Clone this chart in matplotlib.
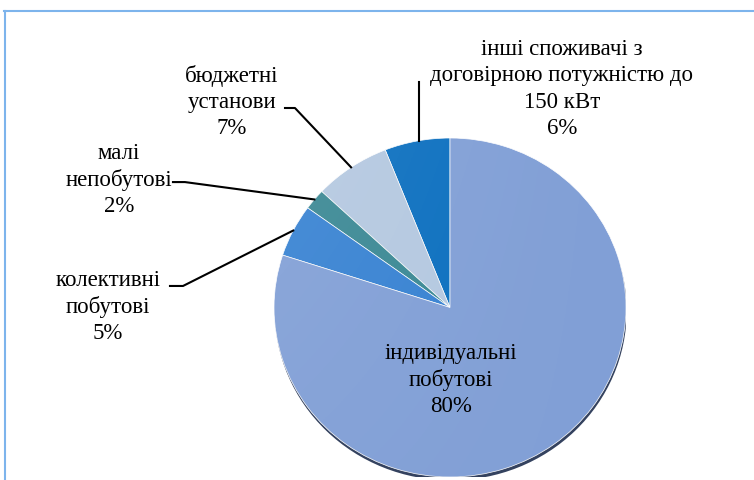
import numpy as np
import matplotlib
matplotlib.use('Agg')
import matplotlib.pyplot as plt
from matplotlib.patches import Ellipse
from matplotlib.lines import Line2D

plt.rcParams['font.family'] = ['Liberation Serif', 'DejaVu Serif']

# wedges go counterclockwise from 12 o'clock
labels = ['інші споживачі з\nдоговірною потужністю до\n150 кВт',
          'бюджетні\nустанови',
          'малі\nнепобутові',
          'колективні\nпобутові',
          'індивідуальні\nпобутові']
shares = [6, 7, 2, 5, 80]
colors = ['#0b6fbf', '#b4c8e0', '#3a8894', '#3782d2', '#819fd6']

# label centres and leader elbows, in pie-radius units
label_pos = [(0.636, 1.295), (-1.239, 1.218), (-1.88, 0.758), (-1.943, 0.009), (0.006, -0.422)]
elbows = [[(-0.176, 1.33)],
          [(-0.9375, 1.177), (-0.881, 1.177)],
          [(-1.574, 0.740), (-1.506, 0.740)],
          [(-1.591, 0.127), (-1.517, 0.127)],
          None]

fig = plt.figure(figsize=(7.54, 4.81), dpi=100)
ax = fig.add_axes([274 / 754, 3 / 481, 352 / 754, 339 / 481])

# soft shadow under the pie
ax.add_patch(Ellipse((0.004, -0.02), 2.0, 2.0, facecolor='#34425f', edgecolor='none', zorder=0))

wedges, _ = ax.pie(shares, colors=colors, startangle=90, counterclock=True,
                   wedgeprops=dict(edgecolor='white', linewidth=0.5, zorder=1))

# light gradient over the pie
clip = Ellipse((0, 0), 2.0, 2.0, transform=ax.transData)
gx, gy = np.meshgrid(np.linspace(0, 1, 200), np.linspace(0, 1, 200))
grad = np.zeros((200, 200, 4))
grad[..., :3] = 1.0
grad[..., 3] = 0.10 * (1 - gx) * (0.4 + 0.6 * gy)
img = ax.imshow(grad, extent=(-1, 1, -1, 1), origin='lower', aspect='auto', zorder=2)
img.set_clip_path(clip)

ax.set_xlim(-1, 1)
ax.set_ylim(-1, 1)
ax.set_aspect('auto')
ax.axis('off')

for w, lab, val, pos, elb in zip(wedges, labels, shares, label_pos, elbows):
    ax.text(pos[0], pos[1], f'{lab}\n{val}%', ha='center', va='center',
            fontsize=16.5, linespacing=1.33, color='black', clip_on=False, zorder=5)
    if elb is None:
        continue
    mid = np.deg2rad((w.theta1 + w.theta2) / 2)
    tip = (np.cos(mid), np.sin(mid))
    pts = elb + [tip]
    if len(elb) == 1:
        pts = [elb[0], (elb[0][0], tip[1])]
    xs, ys = zip(*pts)
    ax.plot(xs, ys, color='black', lw=1.5, clip_on=False, zorder=4)

# frame
fig.add_artist(Line2D([4 / 754, 1], [1 - 12 / 481, 1 - 12 / 481], color='#7db4ec', lw=1.5))
fig.add_artist(Line2D([5 / 754, 5 / 754], [1 - 12 / 481, 0], color='#7db4ec', lw=1.5))

fig.savefig('out.png', dpi=100)
